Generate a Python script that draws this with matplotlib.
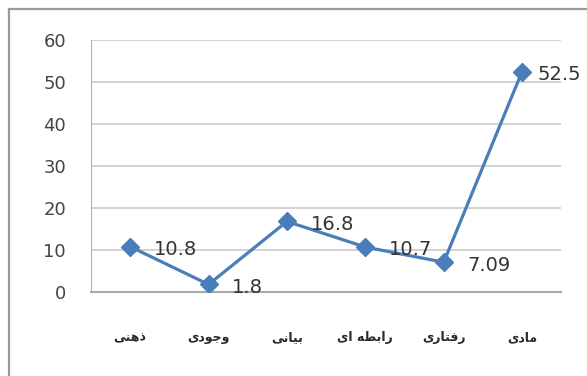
import matplotlib as mpl
mpl.use('Agg')
import matplotlib.pyplot as plt  # NOQA
from matplotlib.lines import Line2D  # NOQA

categories = ['ذهنی', 'وجودی', 'بیانی', 'رابطه ای', 'رفتاری', 'مادی']
values = [10.8, 1.8, 16.8, 10.7, 7.09, 52.5]
value_labels = ['10.8', '1.8', '16.8', '10.7', '7.09', '52.5']
y_ticks = [0, 10, 20, 30, 40, 50, 60]

# matplotlib does no arabic shaping, so pick the joined glyph forms by hand
# (isolated, final, initial, medial)
FORMS = {
    'ا': ('\uFE8D', '\uFE8E', None, None),
    'ب': ('\uFE8F', '\uFE90', '\uFE91', '\uFE92'),
    'ت': ('\uFE95', '\uFE96', '\uFE97', '\uFE98'),
    'ج': ('\uFE9D', '\uFE9E', '\uFE9F', '\uFEA0'),
    'د': ('\uFEA9', '\uFEAA', None, None),
    'ذ': ('\uFEAB', '\uFEAC', None, None),
    'ر': ('\uFEAD', '\uFEAE', None, None),
    'ط': ('\uFEC1', '\uFEC2', '\uFEC3', '\uFEC4'),
    'ف': ('\uFED1', '\uFED2', '\uFED3', '\uFED4'),
    'م': ('\uFEE1', '\uFEE2', '\uFEE3', '\uFEE4'),
    'ن': ('\uFEE5', '\uFEE6', '\uFEE7', '\uFEE8'),
    'ه': ('\uFEE9', '\uFEEA', '\uFEEB', '\uFEEC'),
    'و': ('\uFEED', '\uFEEE', None, None),
    'ی': ('\uFBFC', '\uFBFD', '\uFBFE', '\uFBFF'),
}


def shape(word):
    out = []
    for i, ch in enumerate(word):
        if ch not in FORMS:
            out.append(ch)
            continue
        prev = word[i - 1] if i > 0 else ''
        nxt = word[i + 1] if i + 1 < len(word) else ''
        join_prev = prev in FORMS and FORMS[prev][2] is not None
        join_next = nxt in FORMS and FORMS[ch][2] is not None
        iso, fin, ini, med = FORMS[ch]
        if join_prev and join_next:
            out.append(med)
        elif join_prev:
            out.append(fin)
        elif join_next:
            out.append(ini)
        else:
            out.append(iso)
    return ''.join(reversed(out))


plt.rcParams['font.family'] = ['DejaVu Sans']

fig = plt.figure(figsize=(5.87, 3.76), dpi=100)
ax = fig.add_axes([0.155, 0.2234, 0.8012, 0.6702])

x = list(range(len(categories)))
ax.plot(x, values, color='#4A7EBB', lw=2.3, marker='D', markersize=9,
        markerfacecolor='#4A7EBB', markeredgecolor='#4A7EBB', zorder=3)

for i, (v, lab) in enumerate(zip(values, value_labels)):
    dx = 11 if i == len(values) - 1 else 17
    ax.annotate(lab, (i, v), xytext=(dx, -2), textcoords='offset points',
                ha='left', va='center', fontsize=14, color='#333333',
                zorder=4, annotation_clip=False)

ax.set_xlim(-0.5, len(categories) - 0.5)
ax.set_ylim(0, 60)
ax.set_yticks(y_ticks)
ax.set_xticks(x)
ax.set_xticklabels([shape(c) for c in categories], fontsize=9,
                   fontweight='bold', color='#2A2A2A')
ax.tick_params(axis='x', length=0, pad=28)
ax.tick_params(axis='y', length=0, pad=18, labelsize=13,
               labelcolor='#444444')

ax.grid(axis='y', color='#CFCFCF', lw=1.3)
ax.set_axisbelow(True)
for side in ['top', 'right']:
    ax.spines[side].set_visible(False)
ax.spines['left'].set_color('#B0B0B0')
ax.spines['bottom'].set_color('#A8A8A8')
ax.spines['bottom'].set_linewidth(1.5)

# outer chart frame, cut off at the right and bottom
fig.add_artist(Line2D([9 / 587, 9 / 587], [0, 1 - 9 / 376],
                      color='#9A9A9A', lw=1.6))
fig.add_artist(Line2D([9 / 587, 1], [1 - 9 / 376, 1 - 9 / 376],
                      color='#9A9A9A', lw=1.6))

plt.savefig('out.png', dpi=100)
